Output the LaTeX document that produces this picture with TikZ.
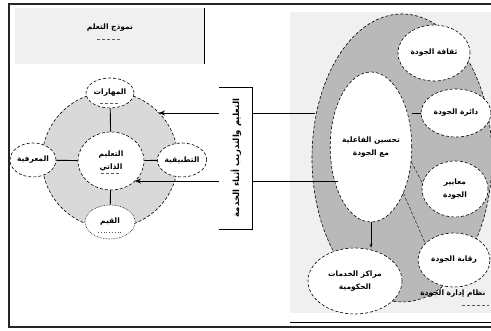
\documentclass[tikz,border=0pt]{standalone}
\usepackage{fontspec}
\usetikzlibrary{shapes.geometric,arrows.meta}
\TeXXeTstate=1
\newfontfamily\arabicfont[Script=Arabic]{DejaVu Sans}
\newcommand{\ar}[1]{\beginR #1\endR}

\begin{document}
\begin{tikzpicture}[x=1pt,y=-1pt,
  bubble/.style={ellipse, draw, densely dashed, fill=white, line width=0.6pt, inner sep=0pt},
  lbl/.style={font=\arabicfont\bfseries\fontsize{7.5}{13}\selectfont, align=center},
  link/.style={line width=0.9pt},
  marks/.style={densely dashed, line width=0.8pt, gray!70!black},
  frame/.style={line width=1.6pt, draw=black!85},
  arr/.style={link, -{Stealth[length=6pt,width=5pt]}}]
\path[use as bounding box] (0,0) rectangle (491,331);

% title panel, top left
\fill[gray!12] (15,8) rectangle (204,64);
\draw[line width=0.9pt] (204,8) -- (204,64);
\node[lbl] (title) at (110,28) {\ar{نموذج التعلم}};
\draw[marks] (97,39) -- (122,39);

% right panel
\fill[gray!12] (290,12) rectangle (491,313);
\draw[line width=0.9pt] (290,322) -- (491,322);
\node[ellipse, fill=gray!55, draw, densely dashed, line width=0.6pt,
      minimum width=180pt, minimum height=288pt] (ring) at (402,158) {};
\node[bubble, minimum width=70pt, minimum height=150pt, lbl] (core) at (371,147)
  {\ar{تحسين الفاعلية}\\ \ar{مع الجودة}};

\node[bubble, lbl, minimum width=72pt, minimum height=56pt] (q1) at (434,53) {\ar{ثقافة الجودة}};
\node[bubble, lbl, minimum width=70pt, minimum height=48pt] (q2) at (456,113) {\ar{دائرة الجودة}};
\node[bubble, lbl, minimum width=66pt, minimum height=56pt] (q3) at (455,189) {\ar{معايير}\\ \ar{الجودة}};
\node[bubble, lbl, minimum width=72pt, minimum height=54pt] (q4) at (454,260) {\ar{رقابة الجودة}};
\node[bubble, lbl, minimum width=94pt, minimum height=66pt] (svc) at (355,281)
  {\ar{مراكز الخدمات}\\ \ar{الحكومية}};

\draw[link] (core.east |- q2.west) -- (q2.west);
\draw[densely dashed] (core.-20) -- (q3.170);
\draw[densely dashed] (core.-55) -- (q4.150);
\draw[link, -{Stealth[length=4pt,width=3pt]}] (core.south) -- (core.south |- svc.north);

\node[lbl, anchor=east] (note) at (489,294) {\ar{نظام إدارة الجودة}};
\draw[marks] (462,305) -- (489,305);

% left group
\node[circle, fill=gray!30, draw, densely dashed, line width=0.6pt,
      minimum size=136pt] (disk) at (110,160) {};
\node[bubble, lbl, minimum width=66pt, minimum height=58pt] (hub) at (111,161) {\ar{التعليم}\\ \ar{الذاتي}};
\node[bubble, lbl, minimum width=48pt, minimum height=30pt] (top) at (110,93) {\ar{المهارات}};
\node[bubble, lbl, minimum width=46pt, minimum height=34pt] (west) at (33,160) {\ar{المعرفية}};
\node[bubble, lbl, minimum width=48pt, minimum height=34pt] (east) at (182,160) {\ar{التطبيقية}};
\node[bubble, densely dotted, lbl, minimum width=50pt, minimum height=34pt] (bot) at (110,222) {\ar{القيم}};
\draw[marks] (100,103) -- (120,103);
\draw[marks] (101,173) -- (121,173);
\draw[marks, dotted] (98,232) -- (122,232);

\draw[link] (top) -- (hub);
\draw[link] (west) -- (hub);
\draw[link] (east) -- (hub);
\draw[link] (bot) -- (hub);

% arrows into the left group
\coordinate (a1) at (315,113);
\coordinate (a1e) at (159,113);
\coordinate (a2) at (338,181);
\coordinate (a2e) at (135,181);
\draw[arr] (a1) -- (a1e);
\draw[arr] (a2) -- (a2e);

% vertical bracket label
\fill[white] (219,87) rectangle (252,229);
\draw[line width=0.9pt] (219,87) -- (252,87) -- (252,229) -- (219,229);
\node[lbl, font=\arabicfont\bfseries\fontsize{8.5}{12}\selectfont, rotate=90] (train) at (236,158)
  {\ar{التعليم والتدريب أثناء الخدمة}};

% outer frame, open on the right
\coordinate (fTR) at (491,4);
\coordinate (fTL) at (9,4);
\coordinate (fBL) at (9,327);
\coordinate (fBR) at (491,327);
\path[frame] (fTR) -- (fTL) -- (fBL) -- (fBR);
\end{tikzpicture}
\end{document}
